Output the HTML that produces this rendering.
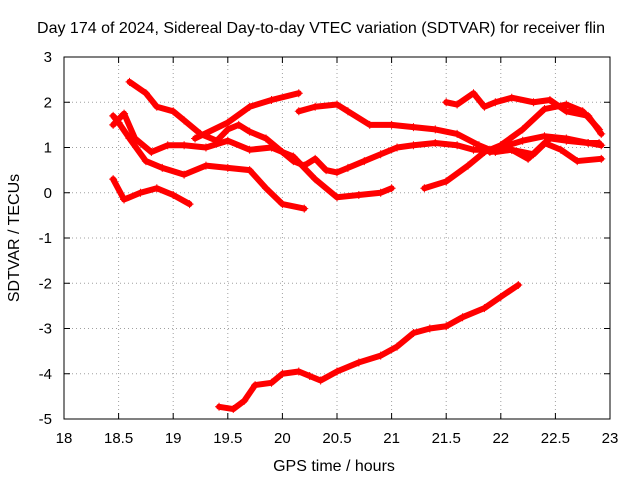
<!DOCTYPE html>
<html><head><meta charset="utf-8"><style>
body{margin:0;background:#fff;}
svg text{font-family:"Liberation Sans",sans-serif;font-size:15px;fill:#000;}
svg text.big{font-size:16px;}
</style></head><body>
<svg id="chart" width="640" height="480" xmlns="http://www.w3.org/2000/svg">
<rect width="640" height="480" fill="#fff"/>
<text class="big" x="321" y="33" text-anchor="middle">Day 174 of 2024, Sidereal Day-to-day VTEC variation (SDTVAR) for receiver flin</text>
<g id="grid"></g>
<g id="ticks"></g>
<g id="series"></g>
<rect x="64" y="57" width="546" height="362" fill="none" stroke="#000" stroke-width="1"/>
<text class="big" x="334" y="471" text-anchor="middle">GPS time / hours</text>
<text class="big" transform="translate(19,238) rotate(-90)" text-anchor="middle">SDTVAR / TECUs</text>
</svg>
<script>
const xTicks=[18,18.5,19,19.5,20,20.5,21,21.5,22,22.5,23];
const xTickLabels=["18","18.5","19","19.5","20","20.5","21","21.5","22","22.5","23"];
const yTicks=[3,2,1,0,-1,-2,-3,-4,-5];
const yTickLabels=["3","2","1","0","-1","-2","-3","-4","-5"];
const trackA=[[19.42,-4.73],[19.55,-4.78],[19.65,-4.6],[19.75,-4.25],[19.9,-4.2],[20.0,-4.0],[20.15,-3.95],[20.25,-4.05],[20.35,-4.15],[20.5,-3.95],[20.7,-3.75],[20.9,-3.6],[21.05,-3.4],[21.2,-3.1],[21.35,-3.0],[21.5,-2.95],[21.65,-2.75],[21.85,-2.55],[22.0,-2.3],[22.16,-2.04]];
const trackB=[[18.6,2.45],[18.75,2.2],[18.85,1.9],[19.0,1.8],[19.1,1.6],[19.25,1.3],[19.4,1.15],[19.5,1.4],[19.6,1.5],[19.7,1.35],[19.85,1.2],[20.0,0.9],[20.1,0.7],[20.2,0.6],[20.3,0.75],[20.4,0.5],[20.5,0.45],[20.6,0.55],[20.75,0.7],[20.9,0.85],[21.05,1.0],[21.2,1.05],[21.4,1.1],[21.6,1.05],[21.75,0.95],[21.9,0.95],[22.0,1.0],[22.2,1.15],[22.4,1.25],[22.6,1.2],[22.8,1.1],[22.92,1.05]];
const trackC=[[18.45,1.7],[18.5,1.55],[18.6,1.2],[18.75,0.7],[18.9,0.55],[19.1,0.4],[19.3,0.6],[19.5,0.55],[19.7,0.5],[19.85,0.1],[20.0,-0.25],[20.2,-0.35]];
const trackD=[[18.45,0.3],[18.55,-0.15],[18.7,0.0],[18.85,0.1],[19.0,-0.05],[19.15,-0.25]];
const trackE=[[18.45,1.5],[18.55,1.75],[18.65,1.2],[18.8,0.9],[18.95,1.05],[19.1,1.05],[19.3,1.0],[19.5,1.15],[19.7,0.95],[19.9,1.0],[20.1,0.8],[20.3,0.3],[20.5,-0.1],[20.7,-0.05],[20.9,0.0],[21.0,0.1]];
const trackF=[[19.2,1.2],[19.5,1.55],[19.7,1.9],[19.9,2.05],[20.15,2.2]];
const trackG=[[20.15,1.8],[20.3,1.9],[20.5,1.95],[20.6,1.8],[20.8,1.5],[21.0,1.5],[21.2,1.45],[21.4,1.4],[21.6,1.3],[21.8,1.05],[21.95,0.9],[22.1,0.95],[22.3,0.85],[22.45,1.2],[22.6,1.15],[22.8,1.1],[22.9,1.1]];
const trackH=[[21.3,0.1],[21.5,0.25],[21.7,0.6],[21.85,0.9],[22.0,1.05],[22.2,1.4],[22.4,1.85],[22.6,1.95],[22.75,1.8],[22.9,1.4]];
const trackI=[[21.5,2.0],[21.6,1.95],[21.75,2.2],[21.85,1.9],[21.95,2.0],[22.1,2.1],[22.3,2.0],[22.45,2.05],[22.6,1.8],[22.8,1.7],[22.92,1.3]];
const trackJ=[[21.9,0.9],[22.1,0.95],[22.25,0.75],[22.4,1.1],[22.55,0.95],[22.7,0.7],[22.92,0.75]];
const tracks=[trackA,trackB,trackC,trackD,trackE,trackF,trackG,trackH,trackI,trackJ];
const NS="http://www.w3.org/2000/svg";
const X0=64,X1=610,Y0=419,Y1=57;
const xs=v=>X0+(v-18)/(23-18)*(X1-X0);
const ys=v=>Y0-(v+5)/(3+5)*(Y0-Y1);
function mk(tag,attrs,parent){const e=document.createElementNS(NS,tag);for(const k in attrs)e.setAttribute(k,attrs[k]);parent.appendChild(e);return e;}
const grid=document.getElementById('grid'),ticks=document.getElementById('ticks'),series=document.getElementById('series');
xTicks.forEach((t,i)=>{const x=xs(t);
 if(i>0&&i<xTicks.length-1){const g=mk('line',{x1:x,x2:x,y1:Y1,y2:Y0,stroke:'#a0a0a0','stroke-dasharray':'1,3'},grid);}
 mk('line',{x1:x,x2:x,y1:Y0,y2:Y0-6,stroke:'#000'},ticks);mk('line',{x1:x,x2:x,y1:Y1,y2:Y1+6,stroke:'#000'},ticks);
 const tx=mk('text',{x:x,y:Y0+24,'text-anchor':'middle'},ticks);tx.textContent=xTickLabels[i];
 
 
});
yTicks.forEach((t,i)=>{const y=ys(t);
 if(i>0&&i<yTicks.length-1){const g=mk('line',{x1:X0,x2:X1,y1:y,y2:y,stroke:'#a0a0a0','stroke-dasharray':'1,3'},grid);}
 mk('line',{x1:X0,x2:X0+6,y1:y,y2:y,stroke:'#000'},ticks);mk('line',{x1:X1,x2:X1-6,y1:y,y2:y,stroke:'#000'},ticks);
 const tx=mk('text',{x:X0-12,y:y+5,'text-anchor':'end'},ticks);tx.textContent=yTickLabels[i];
 
 
});
tracks.forEach((tr,k)=>{
 const g=mk('g',{},series);
 
 
 mk('polyline',{points:tr.map(p=>xs(p[0])+','+ys(p[1])).join(' '),fill:'none',stroke:'#f00','stroke-width':6,'stroke-linejoin':'round','stroke-linecap':'round'},g);
 tr.forEach(p=>{const x=xs(p[0]),y=ys(p[1]);
  mk('path',{d:`M${x-4},${y}H${x+4}M${x},${y-4}V${y+4}`,stroke:'#f00','stroke-width':1},g);});
});
</script>
</body></html>
